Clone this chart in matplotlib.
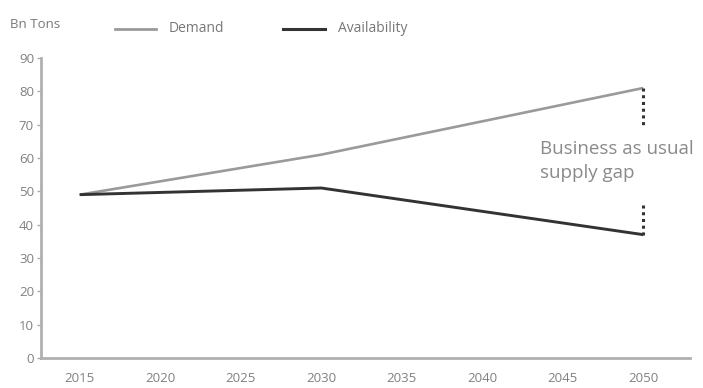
import matplotlib
matplotlib.use("Agg")
import matplotlib.pyplot as plt

years = [2015, 2030, 2050]
demand = [49, 61, 81]
availability = [49, 51, 37]
xticks = [2015, 2020, 2025, 2030, 2035, 2040, 2045, 2050]
yticks = [0, 10, 20, 30, 40, 50, 60, 70, 80, 90]
gap_upper = [81, 70]
gap_lower = [46, 37]

plt.rcParams['font.family'] = ['Open Sans', 'DejaVu Sans']

fig = plt.figure(figsize=(7.03, 3.88), dpi=100)
ax = fig.add_axes([41/703, 1-358/388, (690-41)/703, (358-58)/388])

ax.plot(years, demand, color='#9a9a9a', lw=1.9, solid_capstyle='butt')
ax.plot(years, availability, color='#333333', lw=2.1, solid_capstyle='butt')
ax.plot([2050, 2050], gap_upper, color='#333333', lw=2.2, ls=(0, (1, 1.2)))
ax.plot([2050, 2050], gap_lower, color='#333333', lw=2.2, ls=(0, (1, 1.2)))

ax.text(2043.6, 65.5, "Business as usual\nsupply gap", color='#8a8a8a', fontsize=13.5,
        va='top', ha='left', linespacing=1.45)

ax.set_xlim(2012.6, 2052.9)
ax.set_ylim(0, 90)
ax.set_xticks(xticks)
ax.set_yticks(yticks)
ax.tick_params(axis='x', length=0, pad=10, labelsize=9.5, labelcolor='#808080')
ax.tick_params(axis='y', length=3, width=1, color='#aaaaaa', pad=2, labelsize=9.5, labelcolor='#808080')
for s in ['top', 'right']:
    ax.spines[s].set_visible(False)
for s in ['left', 'bottom']:
    ax.spines[s].set_color('#b0b0b0')
    ax.spines[s].set_linewidth(2)

fig.text(10/703, 1-25/388, "Bn Tons", fontsize=9.5, color='#777777', va='center')
# legend
fig.lines.append(plt.Line2D([115/703, 156/703], [1-29/388, 1-29/388], color='#9a9a9a', lw=2, transform=fig.transFigure))
fig.text(169/703, 1-29/388, "Demand", fontsize=10, color='#777777', va='center')
fig.lines.append(plt.Line2D([283/703, 325/703], [1-29/388, 1-29/388], color='#333333', lw=2.2, transform=fig.transFigure))
fig.text(338/703, 1-29/388, "Availability", fontsize=10, color='#777777', va='center')

fig.savefig("out.png", dpi=100)
